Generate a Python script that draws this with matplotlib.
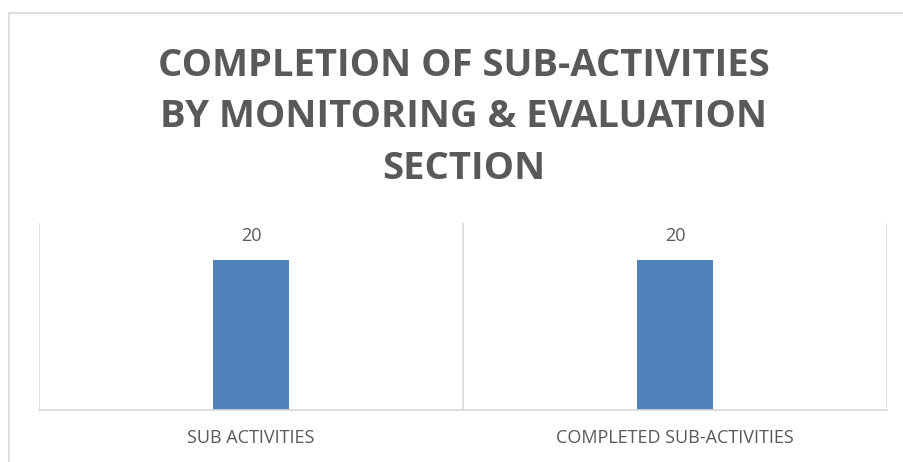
import matplotlib
matplotlib.use("Agg")
import matplotlib.pyplot as plt
from matplotlib.patches import Rectangle

categories = ["SUB ACTIVITIES", "COMPLETED SUB-ACTIVITIES"]
values = [20, 20]
title_lines = ["COMPLETION OF SUB-ACTIVITIES", "BY MONITORING & EVALUATION", "SECTION"]

W, H = 904, 462
TEXT = "#595959"
GRID = "#d9d9d9"
BAR = "#4f81bd"

plt.rcParams["font.family"] = ["Open Sans", "DejaVu Sans"]

fig = plt.figure(figsize=(W / 100, H / 100), dpi=100)

# chart frame (cropped at right and bottom in the original)
fig.patches.append(Rectangle((9 / W, -0.1), 1.2, (H - 13) / H + 0.1,
                             transform=fig.transFigure, fill=False,
                             edgecolor=GRID, lw=1.2))

ax = fig.add_axes([39 / W, (H - 410) / H, 848 / W, 187 / H])
x = range(len(categories))
ax.bar(x, values, width=0.18, color=BAR, zorder=2)
ax.set_xlim(-0.5, len(categories) - 0.5)
ax.set_ylim(0, 25)

for xi, v in zip(x, values):
    ax.text(xi, v + 3.2, f"{v}", ha="center", va="center", fontsize=13, color=TEXT)

# vertical separators between categories
for b in [-0.5, 0.5, 1.5]:
    ax.axvline(b, color=GRID, lw=1.2, zorder=1)

for s in ["top", "left", "right"]:
    ax.spines[s].set_visible(False)
ax.spines["bottom"].set_color(GRID)
ax.spines["bottom"].set_linewidth(1.2)
ax.set_yticks([])
ax.set_xticks(list(x))
ax.set_xticklabels(categories, fontsize=13, color=TEXT)
ax.tick_params(axis="x", length=0, pad=14)

for i, line in enumerate(title_lines):
    fig.text(464 / W, 1 - (75.5 + 51.8 * i) / H, line, ha="center", va="baseline",
             fontsize=27.5, fontweight="bold", color=TEXT)

fig.savefig("out.png", dpi=100)
